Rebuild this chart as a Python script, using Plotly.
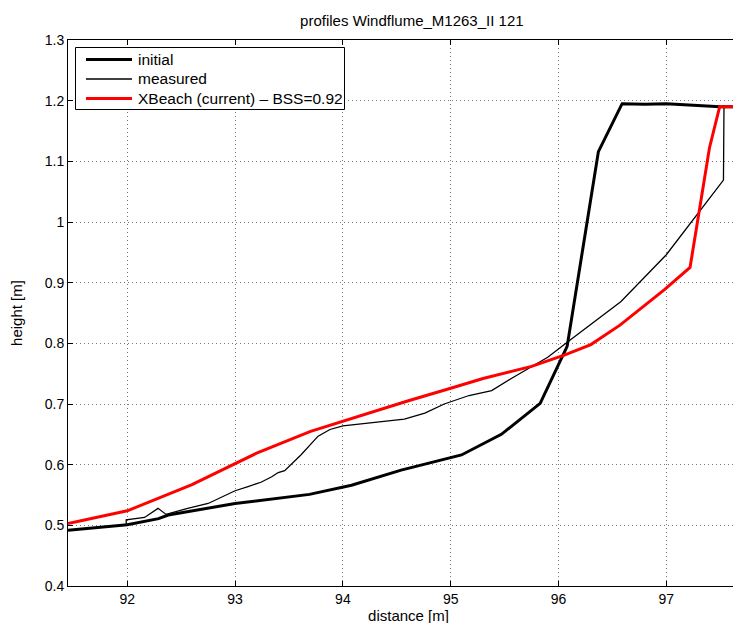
import plotly.graph_objects as go

# ---- data ----
x_initial = [91.45, 92.0, 92.29, 92.38, 93.0, 93.69, 94.08, 94.54, 95.1, 95.47,
             95.83, 96.0, 96.08, 96.37, 96.59, 96.8, 97.0, 97.5, 97.77]
y_initial = [0.492, 0.501, 0.511, 0.517, 0.536, 0.551, 0.566, 0.591, 0.616, 0.650,
             0.701, 0.764, 0.795, 1.116, 1.195, 1.194, 1.195, 1.19, 1.19]

x_measured = [91.99, 91.99, 92.16, 92.285, 92.36, 92.56, 92.75, 92.87, 93.0, 93.12,
              93.24, 93.34, 93.40, 93.46, 93.61, 93.77, 93.88, 94.0, 94.57, 94.76,
              94.94, 95.17, 95.38, 95.59, 95.90, 96.09, 96.37, 96.58, 97.0, 97.53,
              97.535, 97.77]
y_measured = [0.502, 0.509, 0.513, 0.528, 0.518, 0.528, 0.536, 0.546, 0.557, 0.564,
              0.571, 0.580, 0.587, 0.590, 0.616, 0.647, 0.658, 0.664, 0.675, 0.685,
              0.700, 0.714, 0.722, 0.745, 0.777, 0.803, 0.841, 0.869, 0.946, 1.069,
              1.19, 1.19]

x_xbeach = [91.45, 92.0, 92.6, 93.0, 93.2, 93.7, 94.0, 94.6, 95.0, 95.3, 95.75,
            96.06, 96.3, 96.57, 96.98, 97.22, 97.31, 97.40, 97.495, 97.77]
y_xbeach = [0.503, 0.524, 0.567, 0.601, 0.619, 0.655, 0.672, 0.705, 0.726, 0.742,
            0.762, 0.781, 0.798, 0.830, 0.888, 0.925, 1.023, 1.122, 1.19, 1.19]

series_names = ["initial", "measured", "XBeach (current) \u2013 BSS=0.92"]

x_ticks = [92, 93, 94, 95, 96, 97]
y_ticks = [0.4, 0.5, 0.6, 0.7, 0.8, 0.9, 1.0, 1.1, 1.2, 1.3]
y_ticklabels = ["0.4", "0.5", "0.6", "0.7", "0.8", "0.9", "1", "1.1", "1.2", "1.3"]

FONT = "Liberation Sans, Arial, Helvetica, sans-serif"
W, H = 741, 623
ML, MR, MT, MB = 60, 0, 32, 45
PW, PH = W - ML - MR, H - MT - MB

styles = [dict(color="black", width=3),
          dict(color="black", width=1.3),
          dict(color="#ff0000", width=3)]

fig = go.Figure()
for xs, ys, nm, st in zip([x_initial, x_measured, x_xbeach],
                          [y_initial, y_measured, y_xbeach],
                          series_names, styles):
    fig.add_trace(go.Scatter(x=xs, y=ys, mode="lines", name=nm, line=st,
                             showlegend=False))


def px2paper(px, py):
    return (px - ML) / PW, 1 - (py - MT) / PH


# manual legend (MATLAB style: long line samples)
bx0, by0 = px2paper(67.5, 39.5)
bx1, by1 = px2paper(336.5, 101.5)
shapes = [dict(type="rect", xref="paper", yref="paper", x0=bx0, x1=bx1, y0=by1, y1=by0,
               line=dict(color="black", width=1), fillcolor="white", layer="above")]
annotations = []
row_py = [51.5, 71.0, 90.5]
for nm, st, rpy in zip(series_names, styles, row_py):
    lx0, ly = px2paper(78, rpy)
    lx1, _ = px2paper(124, rpy)
    tx, _ = px2paper(128, rpy)
    shapes.append(dict(type="line", xref="paper", yref="paper", x0=lx0, x1=lx1,
                       y0=ly, y1=ly, line=st, layer="above"))
    annotations.append(dict(text=nm, xref="paper", yref="paper", x=tx, y=ly,
                            xanchor="left", yanchor="middle", showarrow=False,
                            font=dict(size=15.5, color="black")))

fig.update_layout(
    width=W, height=H,
    margin=dict(l=ML, r=MR, t=MT, b=MB),
    paper_bgcolor="white", plot_bgcolor="white",
    font=dict(family=FONT, size=14, color="black"),
    title=dict(text="profiles Windflume_M1263_II 121", x=0.545, xanchor="center",
               y=0.98, yanchor="middle", font=dict(size=15)),
    showlegend=False,
    shapes=shapes, annotations=annotations,
)

fig.update_xaxes(
    range=[91.45, 97.767], tickvals=x_ticks, ticktext=[str(t) for t in x_ticks],
    showline=True, linecolor="black", linewidth=1, mirror="ticks",
    ticks="inside", ticklen=5, tickcolor="black",
    showgrid=True, gridcolor="#777", gridwidth=1, griddash="1px,3px",
    zeroline=False,
    title=dict(text="distance [m]", font=dict(size=15), standoff=4),
)
fig.update_yaxes(
    range=[0.4, 1.3], tickvals=y_ticks, ticktext=y_ticklabels,
    showline=True, linecolor="black", linewidth=1, mirror=False,
    ticks="inside", ticklen=5, tickcolor="black",
    showgrid=True, gridcolor="#777", gridwidth=1, griddash="1px,3px",
    zeroline=False,
    title=dict(text="height [m]", font=dict(size=15), standoff=18),
)

fig.write_html("out.html")
